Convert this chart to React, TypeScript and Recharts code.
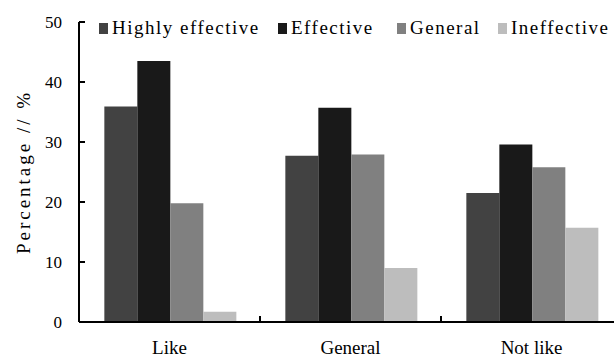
import { BarChart, Bar, XAxis, YAxis, Legend } from 'recharts'

const CATEGORIES = ['Like', 'General', 'Not like']
const HIGHLY_EFFECTIVE = [35.9, 27.7, 21.5]
const EFFECTIVE = [43.5, 35.7, 29.6]
const GENERAL = [19.8, 27.9, 25.8]
const INEFFECTIVE = [1.7, 9.0, 15.7]
const Y_TICKS = [0, 10, 20, 30, 40, 50]

const SERIES = [
  { key: 'highly', label: 'Highly effective', color: '#424242', values: HIGHLY_EFFECTIVE },
  { key: 'effective', label: 'Effective', color: '#191919', values: EFFECTIVE },
  { key: 'general', label: 'General', color: '#808080', values: GENERAL },
  { key: 'ineffective', label: 'Ineffective', color: '#bdbdbd', values: INEFFECTIVE },
]

// slot width of each legend entry, square to next square
const LEGEND_SLOTS = [179, 119, 101, 120]

const data = CATEGORIES.map((name, i) => {
  const row: Record<string, string | number> = { name }
  SERIES.forEach((s) => (row[s.key] = s.values[i]))
  return row
})

const serif = 'Liberation Serif'
const Y_AXIS_WIDTH = 79
const X_TICK_MARGIN = 19
const TICK_LEN = 6

function LegendRow() {
  return (
    <div style={{ display: 'flex', alignItems: 'center', fontFamily: serif, fontSize: 19, color: '#000', lineHeight: '20px' }}>
      {SERIES.map((s, i) => (
        <div key={s.key} style={{ display: 'flex', alignItems: 'center', width: LEGEND_SLOTS[i], whiteSpace: 'nowrap' }}>
          <span style={{ width: 9, height: 11, background: s.color, display: 'inline-block', marginRight: 4, flexShrink: 0 }} />
          <span style={{ letterSpacing: 1.5 }}>{s.label}</span>
        </div>
      ))}
    </div>
  )
}

// y tick: number left of the axis, short mark pointing into the plot
const renderYTick = (props: any) => {
  const { y, payload } = props
  return (
    <g key={`y-${payload.value}`}>
      <line x1={Y_AXIS_WIDTH} x2={Y_AXIS_WIDTH + TICK_LEN} y1={y} y2={y} stroke="#000" strokeWidth={2} />
      <text x={Y_AXIS_WIDTH - 17} y={y} dy="0.35em" textAnchor="end" fill="#000" fontSize={17} fontFamily={serif}>
        {payload.value}
      </text>
    </g>
  )
}

// category tick: centred label plus an upward mark at the right edge of each band
const renderXTick = (props: any) => {
  const { x, y, payload, index } = props
  const axisY = y - X_TICK_MARGIN
  const edge = x + (payload.offset ?? 0)
  return (
    <g key={`x-${payload.value}`}>
      {index < CATEGORIES.length - 1 && (
        <line x1={edge} x2={edge} y1={axisY} y2={axisY - TICK_LEN} stroke="#000" strokeWidth={2} />
      )}
      <text x={x} y={y} dy="0.7em" textAnchor="middle" fill="#000" fontSize={19} fontFamily={serif}>
        {payload.value}
      </text>
    </g>
  )
}

// rotated axis title, centred on the plot height
const renderYLabel = (props: any) => {
  const vb = props.viewBox ?? {}
  const cx = 23
  const cy = (vb.y ?? 22) + (vb.height ?? 300) / 2
  return (
    <text
      x={cx}
      y={cy}
      transform={`rotate(-90, ${cx}, ${cy})`}
      textAnchor="middle"
      dominantBaseline="central"
      fill="#000"
      fontSize={19}
      fontFamily={serif}
      letterSpacing={3}
    >
      Percentage // %
    </text>
  )
}

export default function App() {
  return (
    <div style={{ position: 'fixed', left: 0, top: 0, width: 614, height: 358, overflow: 'hidden', background: '#fff' }}>
      <BarChart
        width={630}
        height={358}
        data={data}
        margin={{ top: 22, right: 8, bottom: 0, left: 0 }}
        barCategoryGap="14%"
        barGap={0}
      >
        <XAxis
          dataKey="name"
          height={36}
          tickLine={false}
          tickSize={0}
          tickMargin={X_TICK_MARGIN}
          axisLine={{ stroke: '#000', strokeWidth: 2 }}
          tick={renderXTick}
        />
        <YAxis
          width={Y_AXIS_WIDTH}
          domain={[0, 50]}
          ticks={Y_TICKS}
          interval={0}
          tickLine={false}
          tickSize={0}
          axisLine={{ stroke: '#000', strokeWidth: 2 }}
          tick={renderYTick}
          label={renderYLabel}
        />
        <Legend
          layout="horizontal"
          verticalAlign="middle"
          align="center"
          wrapperStyle={{ top: 18, left: 99, width: 'auto' }}
          content={() => <LegendRow />}
        />
        {SERIES.map((s) => (
          <Bar key={s.key} dataKey={s.key} name={s.label} fill={s.color} isAnimationActive={false} />
        ))}
      </BarChart>
    </div>
  )
}
